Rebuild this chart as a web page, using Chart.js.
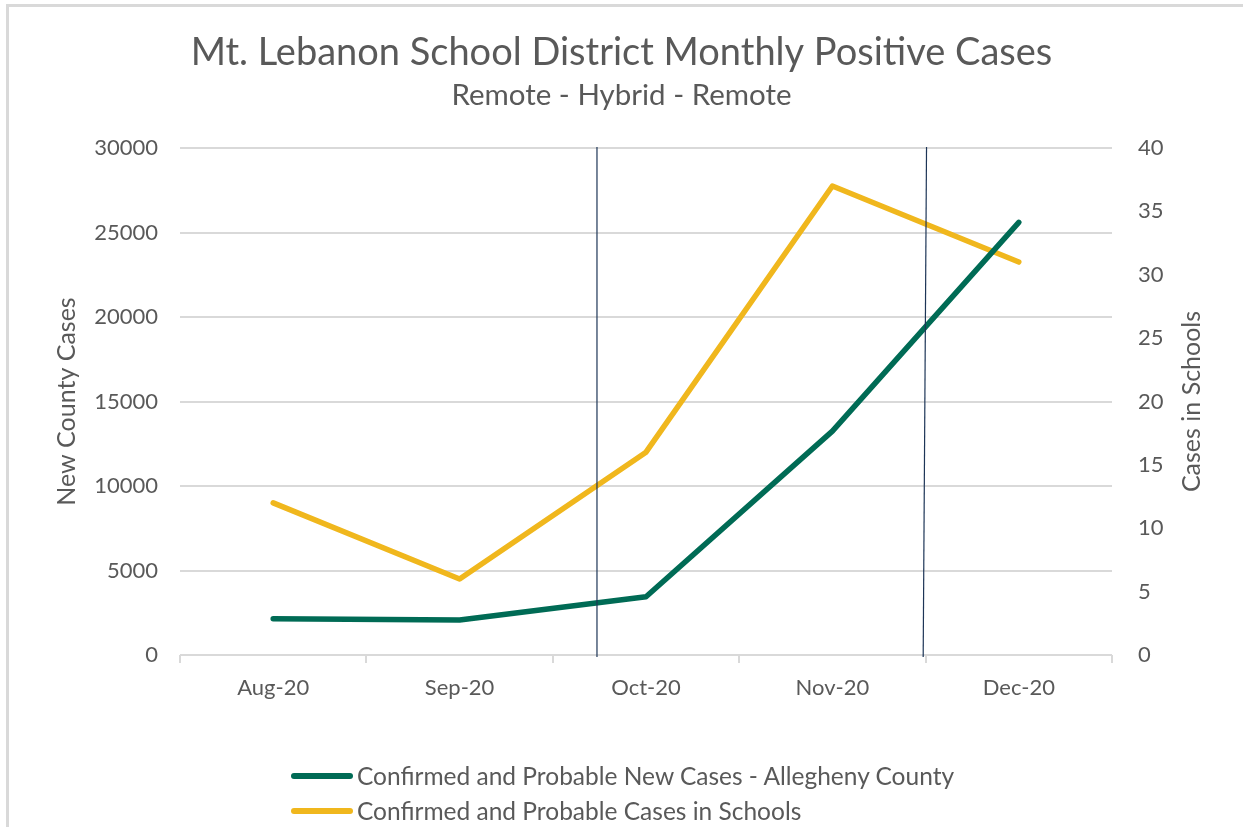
<!DOCTYPE html>
<html lang="en">
  <head>
    <meta charset="UTF-8" />
    <title>Mt. Lebanon School District Monthly Positive Cases</title>
    <script src="https://cdn.jsdelivr.net/npm/chart.js"></script>
    <style>
      html,
      body {
        margin: 0;
        padding: 0;
        background: #fff;
      }
      #wrap {
        position: relative;
        width: 1243px;
        height: 827px;
        overflow: hidden;
        font-family: Lato, "Open Sans", sans-serif;
      }
      #frame {
        position: absolute;
        left: 6px;
        top: 4px;
        right: -10px;
        bottom: -10px;
        border-top: 3px solid #d9d9d9;
        border-left: 3px solid #d9d9d9;
        pointer-events: none;
      }
      #legend {
        position: absolute;
        left: 291px;
        top: 758px;
        color: #595959;
        font-size: 24.5px;
      }
      .item {
        display: flex;
        align-items: center;
        height: 35px;
      }
      .swatch {
        width: 62px;
        height: 6px;
        border-radius: 3px;
        margin-right: 4px;
      }
    </style>
  </head>
  <body>
    <div id="wrap">
      <canvas id="casesChart" width="1243" height="827"></canvas>
      <div id="frame"></div>
      <div id="legend"></div>
    </div>

    <script>
      const months = ["Aug-20", "Sep-20", "Oct-20", "Nov-20", "Dec-20"];
      const countyCases = [2150, 2070, 3450, 13250, 25600];
      const schoolCases = [12, 6, 16, 37, 31];
      // remote -> hybrid -> remote switch points, in category units (top, bottom)
      const phaseSwitches = [
        [1.737, 1.737],
        [3.505, 3.487],
      ];

      const GREEN = "#006b55";
      const YELLOW = "#f0b71d";
      const GREY = "#595959";
      const FONT = "Lato, 'Open Sans', sans-serif";

      const datasets = [
        {
          label: "Confirmed and Probable New Cases - Allegheny County",
          data: countyCases,
          yAxisID: "y",
          borderColor: GREEN,
          backgroundColor: GREEN,
        },
        {
          label: "Confirmed and Probable Cases in Schools",
          data: schoolCases,
          yAxisID: "y1",
          borderColor: YELLOW,
          backgroundColor: YELLOW,
        },
      ].map((d) => ({
        ...d,
        borderWidth: 5.5,
        pointRadius: 0,
        tension: 0,
        borderCapStyle: "round",
        borderJoinStyle: "round",
      }));

      // legend as html, stacked and left aligned like the excel one
      const legendEl = document.getElementById("legend");
      datasets.forEach((d) => {
        const row = document.createElement("div");
        row.className = "item";
        row.innerHTML = `<span class="swatch" style="background:${d.borderColor}"></span><span>${d.label}</span>`;
        legendEl.appendChild(row);
      });

      const switchLines = {
        id: "switchLines",
        afterDatasetsDraw(chart) {
          const { ctx, chartArea, scales } = chart;
          ctx.save();
          ctx.strokeStyle = "#1d3557";
          ctx.lineWidth = 1.2;
          phaseSwitches.forEach(([top, bottom]) => {
            ctx.beginPath();
            ctx.moveTo(scales.x.getPixelForValue(top), chartArea.top - 1);
            ctx.lineTo(scales.x.getPixelForValue(bottom), chartArea.bottom + 2);
            ctx.stroke();
          });
          ctx.restore();
        },
      };

      // right axis title reads bottom-to-top in the original, chart.js turns it the other way
      const rightTitle = {
        id: "rightTitle",
        afterDraw(chart) {
          const { ctx, chartArea } = chart;
          ctx.save();
          ctx.translate(1192, (chartArea.top + chartArea.bottom) / 2);
          ctx.rotate(-Math.PI / 2);
          ctx.fillStyle = GREY;
          ctx.font = `25px ${FONT}`;
          ctx.textAlign = "center";
          ctx.textBaseline = "middle";
          ctx.fillText("Cases in Schools", 0, 0);
          ctx.restore();
        },
      };

      const tickFont = { family: FONT, size: 22 };
      const plain = (v) => String(v);

      new Chart(document.getElementById("casesChart"), {
        type: "line",
        data: { labels: months, datasets },
        plugins: [switchLines, rightTitle],
        options: {
          responsive: false,
          animation: false,
          layout: { padding: 0 },
          scales: {
            x: {
              offset: true,
              grid: {
                offset: true,
                drawOnChartArea: false,
                drawTicks: true,
                tickLength: 8,
                color: "#d9d9d9",
                lineWidth: 2,
              },
              border: { display: false },
              ticks: {
                padding: 12,
                color: GREY,
                font: tickFont,
                maxRotation: 0,
              },
              afterFit: (s) => {
                s.height = 172;
              },
            },
            y: {
              position: "left",
              min: 0,
              max: 30000,
              ticks: {
                stepSize: 5000,
                padding: 22,
                color: GREY,
                font: tickFont,
                callback: plain,
              },
              grid: { color: "#d9d9d9", lineWidth: 2, drawTicks: false },
              border: { display: false },
              title: {
                display: true,
                text: "New County Cases",
                color: GREY,
                font: { family: FONT, size: 25 },
                padding: { top: 52, bottom: 0 },
              },
              afterFit: (s) => {
                s.width = 180;
              },
            },
            y1: {
              position: "right",
              min: 0,
              max: 40,
              ticks: {
                stepSize: 5,
                padding: 26,
                color: GREY,
                font: tickFont,
                callback: plain,
              },
              grid: { drawOnChartArea: false, drawTicks: false },
              border: { display: false },
              afterFit: (s) => {
                s.width = 131;
              },
            },
          },
          plugins: {
            legend: { display: false },
            tooltip: { enabled: false },
            title: {
              display: true,
              text: "Mt. Lebanon School District Monthly Positive Cases",
              color: GREY,
              font: { family: FONT, size: 38, weight: "normal" },
              padding: { top: 30, bottom: 0 },
            },
            subtitle: {
              display: true,
              text: "Remote - Hybrid - Remote",
              color: GREY,
              font: { family: FONT, size: 29.5 },
              padding: { top: 2, bottom: 35 },
            },
          },
        },
      });
    </script>
  </body>
</html>
